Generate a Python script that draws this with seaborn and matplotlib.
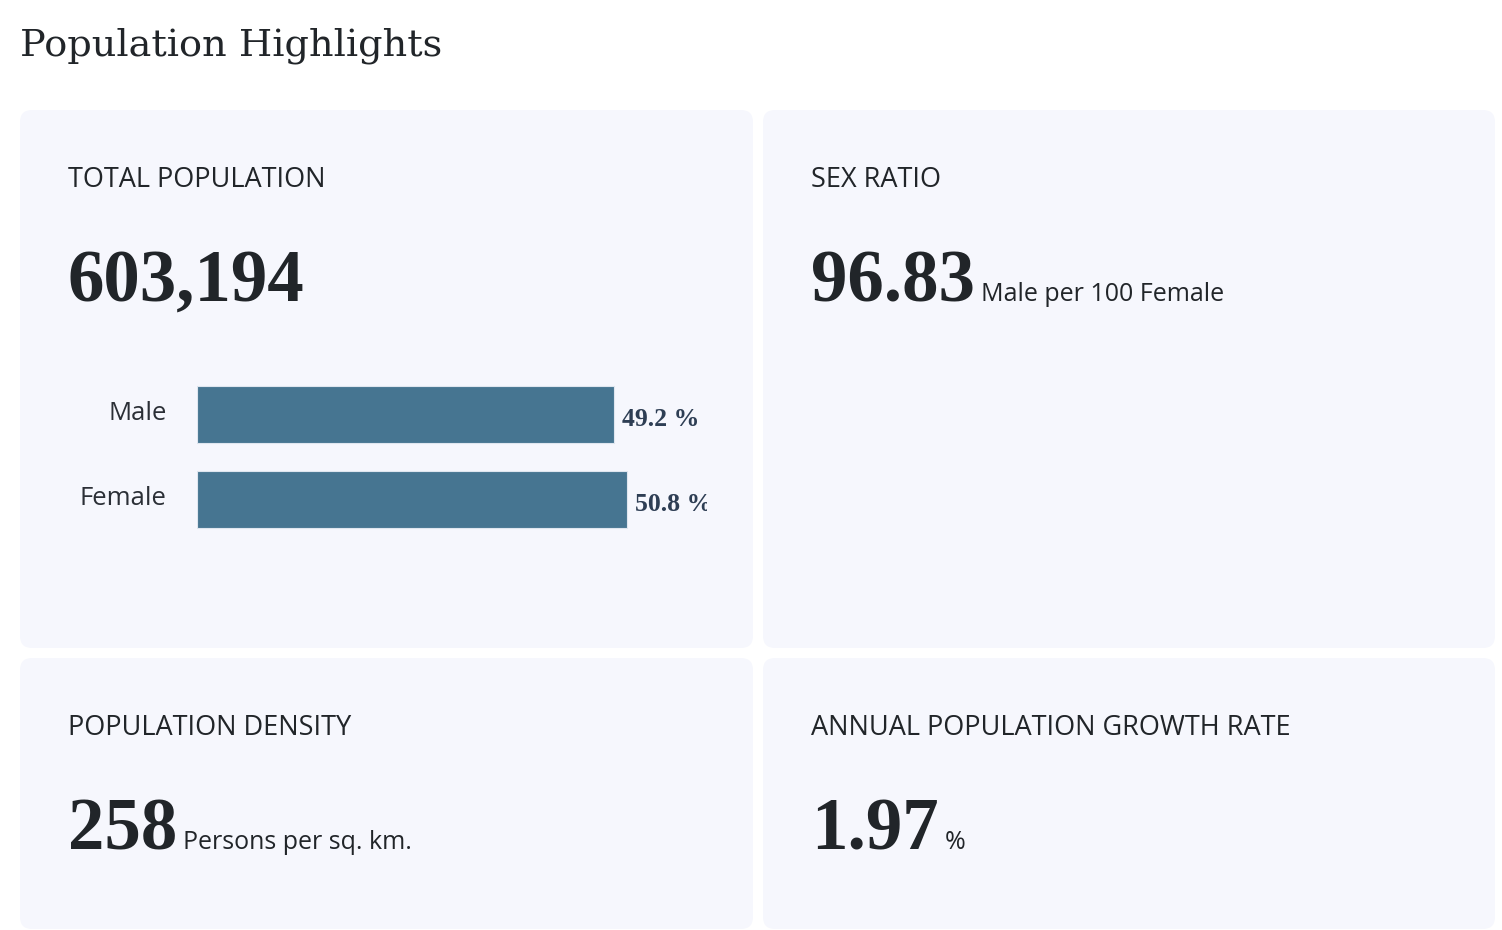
import matplotlib
matplotlib.use("Agg")
import matplotlib.pyplot as plt
import seaborn as sns
import pandas as pd
from matplotlib.patches import FancyBboxPatch
from matplotlib.transforms import offset_copy

# data
genders = ["Male", "Female"]
shares = [49.2, 50.8]
total_population = 603194
sex_ratio = 96.83
density = 258
growth_rate = 1.97

W, H = 1502, 930
CARD = "#f6f7fd"
DARK = "#212529"
BAR = "#467591"
SANS = "Open Sans"
SERIF = "DejaVu Serif"
NUMSERIF = "Liberation Serif"

sns.set_theme(style="white")
plt.rcParams["font.family"] = [SANS, "DejaVu Sans"]

fig = plt.figure(figsize=(W / 100, H / 100), dpi=100)
fig.patch.set_facecolor("white")

# background axes in pixel units (y down)
bg = fig.add_axes([0, 0, 1, 1])
bg.set_xlim(0, W)
bg.set_ylim(H, 0)
bg.axis("off")

cards = [(20, 110, 733, 538), (763, 110, 732, 538),
         (20, 658, 733, 271), (763, 658, 732, 271)]
for x, y, w, h in cards:
    bg.add_patch(FancyBboxPatch((x + 12, y + 12), w - 24, h - 24,
                                boxstyle="round,pad=12", fc=CARD, ec="none"))

bg.text(20, 56, "Population Highlights", family=SERIF, fontsize=27.5,
        color=DARK, va="baseline")

renderer = fig.canvas.get_renderer()


def card_text(x, y_head, head, y_num, num, unit=None):
    bg.text(x, y_head, head, fontsize=19.5, color=DARK, va="baseline")
    t = bg.text(x, y_num, num, family=NUMSERIF, fontweight="bold", fontsize=52.5,
                color=DARK, va="baseline")
    if unit:
        bb = t.get_window_extent(renderer)
        bg.text(bb.x1 + 6, y_num, unit, fontsize=18, color=DARK, va="baseline")


card_text(68, 187, "TOTAL POPULATION", 301, f"{total_population:,}")
card_text(811, 187, "SEX RATIO", 301, f"{sex_ratio:.2f}", "Male per 100 Female")
card_text(68, 735, "POPULATION DENSITY", 849, f"{density}", "Persons per sq. km.")
card_text(811, 735, "ANNUAL POPULATION GROWTH RATE", 849, f"{growth_rate:.2f}", "%")

# gender bar chart
ax = fig.add_axes([197 / W, 1 - 542 / H, (707 - 197) / W, 170 / H])
ax.set_facecolor("none")
df = pd.DataFrame({"gender": genders, "share": shares})
sns.barplot(data=df, x="share", y="gender", orient="h", color=BAR,
            saturation=1, width=0.68, ax=ax, edgecolor="#dfe6ef", linewidth=0.8)
ax.set_xlim(0, 60.2)
ax.set_ylim(1.5, -0.5)
ax.set_xlabel("")
ax.set_ylabel("")
ax.set_xticks([])
ax.tick_params(axis="y", length=0, pad=22, labelsize=18.5, labelcolor="#2b2f36")
for lab in ax.get_yticklabels():
    lab.set_transform(offset_copy(lab.get_transform(), fig=fig, x=0, y=3, units="points"))
for s in ax.spines.values():
    s.set_visible(False)
for i, v in enumerate(shares):
    ax.text(v + 0.95, i + 0.06, f"{v} %", family=NUMSERIF, fontweight="bold",
            fontsize=18.5, color="#2e3e54", va="center", ha="left", clip_on=True)

fig.savefig("out.png", dpi=100, facecolor="white")
